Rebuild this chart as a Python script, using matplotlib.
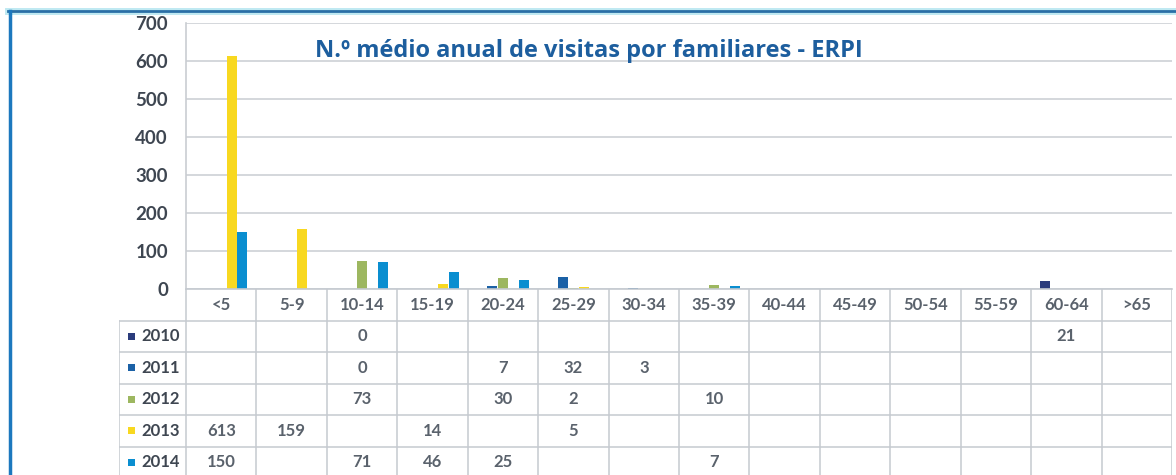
import matplotlib
matplotlib.use('Agg')
import matplotlib.pyplot as plt
import numpy as np
from matplotlib.lines import Line2D
from matplotlib.patches import Rectangle

# ---------------- data ----------------
categories = ['<5', '5-9', '10-14', '15-19', '20-24', '25-29', '30-34',
              '35-39', '40-44', '45-49', '50-54', '55-59', '60-64', '>65']
years = ['2010', '2011', '2012', '2013', '2014']
v2010 = [None, None, 0, None, None, None, None, None, None, None, None, None, 21, None]
v2011 = [None, None, 0, None, 7, 32, 3, None, None, None, None, None, None, None]
v2012 = [None, None, 73, None, 30, 2, None, 10, None, None, None, None, None, None]
v2013 = [613, 159, None, 14, None, 5, None, None, None, None, None, None, None, None]
v2014 = [150, None, 71, 46, 25, None, None, 7, None, None, None, None, None, None]
series = [v2010, v2011, v2012, v2013, v2014]
yticks = [0, 100, 200, 300, 400, 500, 600, 700]
title = 'N.º médio anual de visitas por familiares - ERPI'

colors = ['#2B3C7C', '#1B61A6', '#9DB760', '#F8D820', '#0A8ED0']

W, H = 1176, 475
fig = plt.figure(figsize=(W / 100, H / 100), dpi=100)
fig.patch.set_facecolor('white')


def px_axes(x0, y0, x1, y1):
    return fig.add_axes([x0 / W, 1 - y1 / H, (x1 - x0) / W, (y1 - y0) / H])


# ---------------- chart ----------------
ax = px_axes(186, 23, 1172, 289)
ax.set_xlim(-0.5, len(categories) - 0.5)
ax.set_ylim(0, 700)
grid_c = '#C9CDD2'
for s in ['top', 'right', 'bottom']:
    ax.spines[s].set_visible(False)
ax.spines['left'].set_color(grid_c)
ax.spines['left'].set_linewidth(1.2)
ax.set_yticks(yticks)
ax.set_yticklabels([str(t) for t in yticks], fontfamily='Lato', fontweight='bold',
                   fontsize=13.5, color='#3E4651')
ax.tick_params(axis='y', length=0, pad=13)
ax.set_xticks([])
ax.yaxis.grid(True, color=grid_c, linewidth=1.1)
ax.set_axisbelow(True)

x = np.arange(len(categories))
bw = 0.14
step = 0.15
for i, (vals, c) in enumerate(zip(series, colors)):
    xs = [xi + (i - 2) * step for xi, v in zip(x, vals) if v is not None]
    hs = [v for v in vals if v is not None]
    ax.bar(xs, hs, width=bw, color=c, zorder=3)

fig.text(315 / W, 1 - 51 / H, title, fontfamily='Open Sans', fontweight='bold',
         fontsize=17, color='#1D5E9E', ha='left', va='center')

# ---------------- data table ----------------
catpx = (1172 - 186) / len(categories)
row_h = 31.5
tax = px_axes(119, 289, 1172, 475)
xmin = -0.5 - (186 - 119) / catpx
xmax = len(categories) - 0.5
ymax = (475 - 289) / row_h
tax.set_xlim(xmin, xmax)
tax.set_ylim(ymax, 0)
tax.axis('off')

lc = '#C5CAD0'
tax.plot([-0.5, xmax], [0, 0], color=lc, lw=1.2, clip_on=False)
for r in range(1, 6):
    tax.plot([xmin, xmax], [r, r], color=lc, lw=1.1)
for k in range(len(categories) + 1):
    tax.plot([-0.5 + k, -0.5 + k], [0, ymax], color=lc, lw=1.1)
tax.plot([xmin, xmin], [1, ymax], color=lc, lw=1.1)

for i, c in enumerate(categories):
    tax.text(i, 0.5, c, ha='center', va='center', fontfamily='Lato', fontweight='bold',
             fontsize=12, color='#5A626C')

for r, (yr, vals, c) in enumerate(zip(years, series, colors), start=1):
    sq = 6.5 / catpx
    tax.add_patch(Rectangle((xmin + 9 / catpx, r + 0.5 - 0.11), sq, 0.22,
                            facecolor=c, edgecolor='none'))
    tax.text(xmin + 22 / catpx, r + 0.5, yr, ha='left', va='center', fontfamily='Lato',
             fontweight='bold', fontsize=12, color='#3E4651')
    for i, v in enumerate(vals):
        if v is not None:
            tax.text(i, r + 0.5, str(v), ha='center', va='center', fontfamily='Lato',
                     fontweight='bold', fontsize=12, color='#5A626C')

# ---------------- frame ----------------
fig.add_artist(Line2D([8 / W, 1], [1 - 11 / H, 1 - 11 / H], color='#BFE9F2', lw=5,
                      transform=fig.transFigure))
fig.add_artist(Line2D([8 / W, 1], [1 - 11 / H, 1 - 11 / H], color='#2A6FA6', lw=2,
                      transform=fig.transFigure))
fig.add_artist(Line2D([9.5 / W, 9.5 / W], [0, 1 - 11 / H], color='#1C78BE', lw=2.5,
                      transform=fig.transFigure))

fig.savefig('out.png', dpi=100, facecolor='white')
